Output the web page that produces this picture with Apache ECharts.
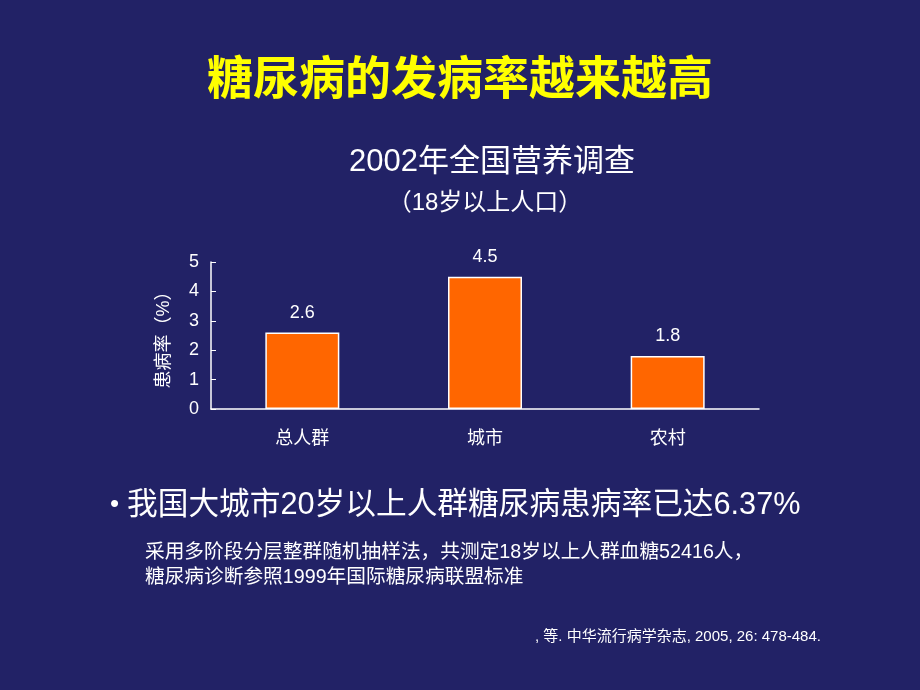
<!DOCTYPE html>
<html><head><meta charset="utf-8">
<script src="https://cdn.jsdelivr.net/npm/echarts@6/dist/echarts.min.js"></script>
<style>html,body{margin:0;padding:0;background:#222266;}#c{width:920px;height:690px;}</style>
</head><body><div id="c"></div>
<script>
const categories = ['总人群', '城市', '农村'];
const values = [2.6, 4.5, 1.8];
const yTicks = [0, 1, 2, 3, 4, 5];
const FONT = '"Liberation Sans", "Noto Sans CJK SC", sans-serif';

const chart = echarts.init(document.getElementById('c'));
chart.setOption({
  backgroundColor: '#222266',
  animation: false,
  title: [
    { text: '糖尿病的发病率越来越高', left: 'center', top: 49,
      textStyle: { color: '#FFFF00', fontSize: 46, fontWeight: 'bold', fontFamily: '"Noto Sans CJK SC", sans-serif' } },
    { text: '2002年全国营养调查', left: 487, top: 142, textAlign: 'center',
      textStyle: { color: '#ffffff', fontSize: 31, fontWeight: 'normal', fontFamily: FONT } },
    { text: '（18岁以上人口）', left: 480, top: 186, textAlign: 'center',
      textStyle: { color: '#ffffff', fontSize: 24, fontWeight: 'normal', fontFamily: FONT } }
  ],
  grid: { left: 211, right: 161, top: 262, bottom: 281, containLabel: false },
  xAxis: {
    type: 'category', data: categories,
    axisLine: { lineStyle: { color: '#ffffff', width: 1.5 } },
    axisTick: { inside: true, length: 5, lineStyle: { color: '#ffffff' } },
    axisLabel: { color: '#ffffff', fontSize: 18, margin: 21, fontFamily: FONT }
  },
  yAxis: {
    type: 'value', min: 0, max: 5, interval: 1,
    name: '患病率（%）', nameLocation: 'middle', nameGap: 38, nameRotate: 90,
    nameTextStyle: { color: '#ffffff', fontSize: 18, fontFamily: FONT },
    axisLine: { show: true, lineStyle: { color: '#ffffff', width: 1.5 } },
    axisTick: { show: true, inside: true, length: 5, lineStyle: { color: '#ffffff' } },
    axisLabel: { color: '#ffffff', fontSize: 18, margin: 12, fontFamily: FONT,
      formatter: v => yTicks.includes(v) ? String(v) : '' },
    splitLine: { show: false }
  },
  series: [{
    type: 'bar', data: values, barWidth: 74,
    itemStyle: { color: '#FF6600', borderColor: '#ffffff', borderWidth: 1.5 },
    label: { show: true, position: 'top', distance: 11, color: '#ffffff', fontSize: 18, fontFamily: FONT }
  }],
  graphic: [
    { type: 'text', left: 110, top: 492, style: { text: '•', fill: '#ffffff', font: '26px ' + FONT } },
    { type: 'text', left: 127, top: 490, style: { text: '我国大城市20岁以上人群糖尿病患病率已达6.37%', fill: '#ffffff', font: '30.7px ' + FONT } },
    { type: 'text', left: 145, top: 543, style: { text: '采用多阶段分层整群随机抽样法，共测定18岁以上人群血糖52416人，', fill: '#ffffff', font: '19.7px ' + FONT } },
    { type: 'text', left: 145, top: 568, style: { text: '糖尿病诊断参照1999年国际糖尿病联盟标准', fill: '#ffffff', font: '19.7px ' + FONT } },
    { type: 'text', left: 535, top: 629, style: { text: ', 等. 中华流行病学杂志, 2005, 26: 478-484.', fill: '#ffffff', font: '15px ' + FONT } }
  ]
});
</script></body></html>
